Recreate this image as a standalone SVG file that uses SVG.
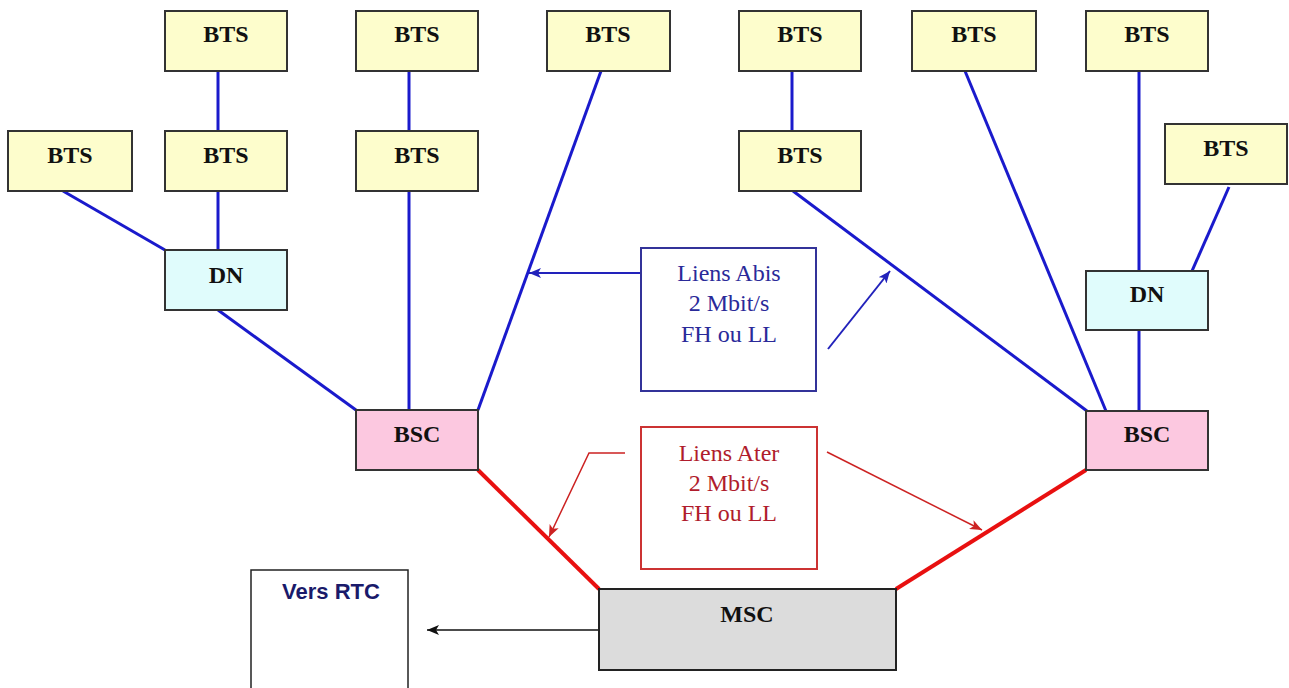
<svg xmlns="http://www.w3.org/2000/svg" width="1289" height="688" viewBox="0 0 1289 688">
<defs>
<marker id="ab" markerUnits="userSpaceOnUse" markerWidth="14" markerHeight="10" refX="12" refY="5" orient="auto"><path d="M0,0 L12,5 L0,10 L3,5 Z" fill="#2222bb"/></marker>
<marker id="ar" markerUnits="userSpaceOnUse" markerWidth="14" markerHeight="10" refX="12" refY="5" orient="auto"><path d="M0,0 L12,5 L0,10 L3,5 Z" fill="#cc2222"/></marker>
<marker id="ak" markerUnits="userSpaceOnUse" markerWidth="14" markerHeight="10" refX="12" refY="5" orient="auto"><path d="M0,0 L12,5 L0,10 L3,5 Z" fill="#111"/></marker>
</defs>
<style>
.box{stroke:#333;stroke-width:2}
.bts{fill:#fdfdcc}
.dn{fill:#e0fcfc}
.bsc{fill:#fcc8e0}
.msc{fill:#dcdcdc;stroke:#222;stroke-width:2}
.lbl{font-family:"Liberation Serif",serif;font-weight:bold;font-size:24px;fill:#111;text-anchor:middle}
.blue{stroke:#1a1acc;stroke-width:3;fill:none}
.red{stroke:#e81010;stroke-width:4;fill:none}
.abis{font-family:"Liberation Serif",serif;font-size:24px;fill:#2a2a99;text-anchor:middle}
.ater{font-family:"Liberation Serif",serif;font-size:24px;fill:#b01c2c;text-anchor:middle}
</style>
<rect width="1289" height="688" fill="#fff"/>
<g id="connectors">
<line class="blue" x1="218" y1="71" x2="218" y2="131"/>
<line class="blue" x1="218" y1="191" x2="218" y2="250"/>
<line class="blue" x1="63" y1="191" x2="165" y2="250"/>
<line class="blue" x1="218" y1="310" x2="356" y2="410"/>
<line class="blue" x1="409" y1="71" x2="409" y2="131"/>
<line class="blue" x1="409" y1="191" x2="409" y2="410"/>
<line class="blue" x1="601" y1="71" x2="478" y2="410"/>
<line class="blue" x1="792" y1="71" x2="792" y2="131"/>
<line class="blue" x1="793" y1="191" x2="1087" y2="411"/>
<line class="blue" x1="965" y1="71" x2="1106" y2="411"/>
<line class="blue" x1="1139" y1="71" x2="1139" y2="271"/>
<line class="blue" x1="1229" y1="187" x2="1192" y2="271"/>
<line class="blue" x1="1139" y1="330" x2="1139" y2="411"/>
<line class="red" x1="478" y1="470" x2="599" y2="589"/>
<line class="red" x1="1086" y1="470" x2="896" y2="589"/>
<line x1="599" y1="630" x2="427" y2="630" stroke="#111" stroke-width="1.5" marker-end="url(#ak)"/>
<line x1="640" y1="273" x2="529" y2="273" stroke="#2222bb" stroke-width="2" marker-end="url(#ab)"/>
<line x1="828" y1="349" x2="890" y2="271" stroke="#2222bb" stroke-width="2" marker-end="url(#ab)"/>
<polyline points="625,453 589,453 549,537" fill="none" stroke="#cc2222" stroke-width="1.5" marker-end="url(#ar)"/>
<line x1="827" y1="452" x2="982" y2="530" stroke="#cc2222" stroke-width="1.5" marker-end="url(#ar)"/>
</g>
<g id="bts1"><rect class="box bts" x="165" y="11" width="122" height="60"/><text class="lbl" x="226" y="42">BTS</text></g>
<g id="bts2"><rect class="box bts" x="356" y="11" width="122" height="60"/><text class="lbl" x="417" y="42">BTS</text></g>
<g id="bts3"><rect class="box bts" x="547" y="11" width="123" height="60"/><text class="lbl" x="608" y="42">BTS</text></g>
<g id="bts4"><rect class="box bts" x="739" y="11" width="122" height="60"/><text class="lbl" x="800" y="42">BTS</text></g>
<g id="bts5"><rect class="box bts" x="912" y="11" width="124" height="60"/><text class="lbl" x="974" y="42">BTS</text></g>
<g id="bts6"><rect class="box bts" x="1086" y="11" width="122" height="60"/><text class="lbl" x="1147" y="42">BTS</text></g>
<g id="bts7"><rect class="box bts" x="8" y="131" width="124" height="60"/><text class="lbl" x="70" y="163">BTS</text></g>
<g id="bts8"><rect class="box bts" x="165" y="131" width="122" height="60"/><text class="lbl" x="226" y="163">BTS</text></g>
<g id="bts9"><rect class="box bts" x="356" y="131" width="122" height="60"/><text class="lbl" x="417" y="163">BTS</text></g>
<g id="bts10"><rect class="box bts" x="739" y="131" width="122" height="60"/><text class="lbl" x="800" y="163">BTS</text></g>
<g id="bts11"><rect class="box bts" x="1165" y="124" width="122" height="60"/><text class="lbl" x="1226" y="156">BTS</text></g>
<g id="dn1"><rect class="box dn" x="165" y="250" width="122" height="60"/><text class="lbl" x="226" y="283">DN</text></g>
<g id="dn2"><rect class="box dn" x="1086" y="271" width="122" height="59"/><text class="lbl" x="1147" y="302">DN</text></g>
<g id="bsc1"><rect class="box bsc" x="356" y="410" width="122" height="60"/><text class="lbl" x="417" y="442">BSC</text></g>
<g id="bsc2"><rect class="box bsc" x="1086" y="411" width="122" height="59"/><text class="lbl" x="1147" y="442">BSC</text></g>
<g id="msc"><rect class="msc" x="599" y="589" width="297" height="81"/><text class="lbl" x="747" y="622">MSC</text></g>
<g id="rtc"><rect x="251" y="570" width="157" height="130" fill="#fff" stroke="#222" stroke-width="1.5"/><text x="331" y="599" font-family="Liberation Sans, Arial, sans-serif" font-weight="bold" font-size="22" fill="#1a1a6a" text-anchor="middle">Vers RTC</text></g>
<g id="abis"><rect x="641" y="248" width="175" height="143" fill="#fff" stroke="#333399" stroke-width="2"/>
<text class="abis" x="729" y="281">Liens Abis</text><text class="abis" x="729" y="311">2 Mbit/s</text><text class="abis" x="729" y="342">FH ou LL</text></g>
<g id="ater"><rect x="641" y="427" width="176" height="142" fill="#fff" stroke="#cc3333" stroke-width="2"/>
<text class="ater" x="729" y="461">Liens Ater</text><text class="ater" x="729" y="491">2 Mbit/s</text><text class="ater" x="729" y="521">FH ou LL</text></g>
</svg>
